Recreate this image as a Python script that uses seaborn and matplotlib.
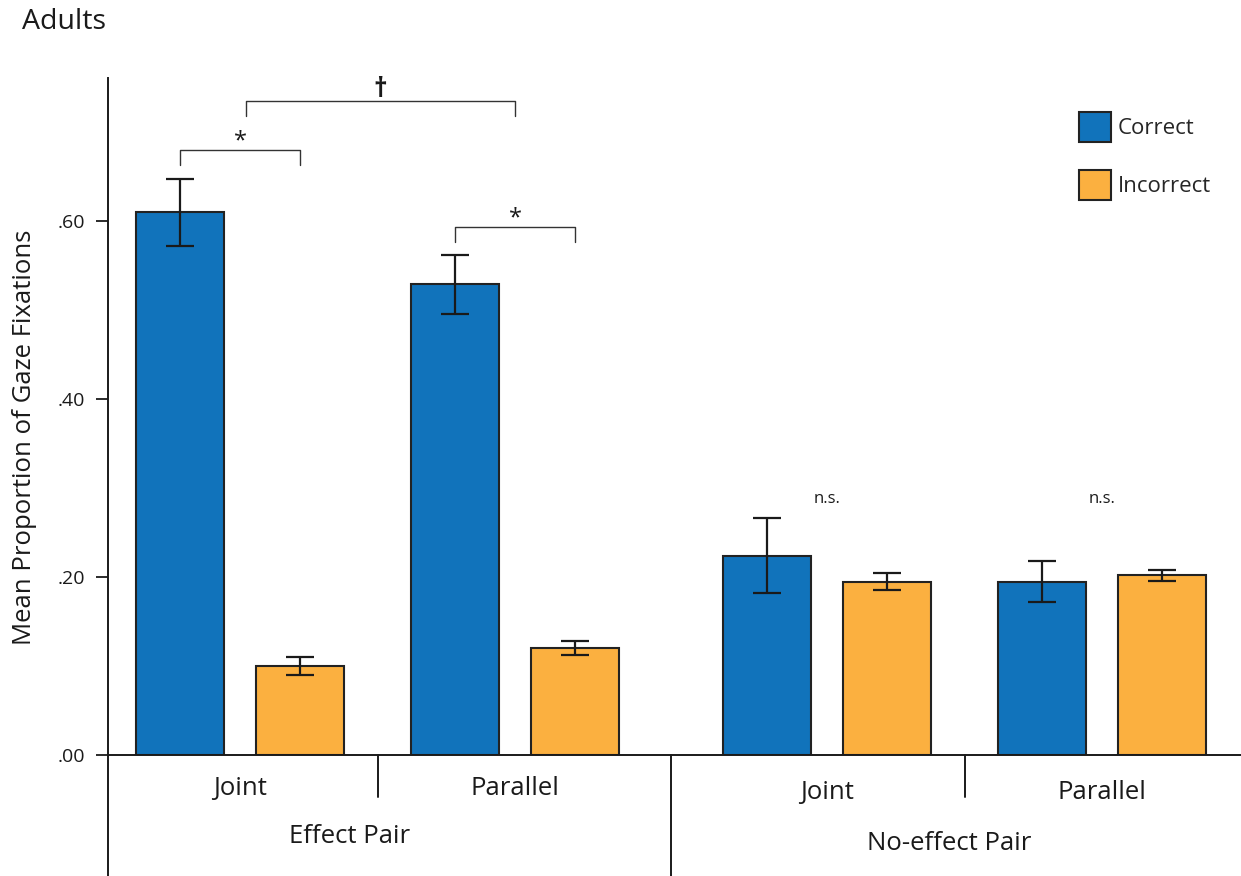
import numpy as np
import pandas as pd
import matplotlib
matplotlib.use("Agg")
import matplotlib.pyplot as plt
import matplotlib.transforms as mtransforms
import seaborn as sns

# ---------------- data ----------------
pair_groups = ["Effect Pair", "No-effect Pair"]
pairs = ["Effect Pair", "Effect Pair", "No-effect Pair", "No-effect Pair"]
conditions = ["Joint", "Parallel", "Joint", "Parallel"]
answers = ["Correct", "Incorrect"]
correct_mean = [0.610, 0.529, 0.224, 0.195]
correct_err = [0.038, 0.033, 0.042, 0.023]
incorrect_mean = [0.100, 0.120, 0.195, 0.202]
incorrect_err = [0.010, 0.008, 0.010, 0.006]
y_ticks = [0.0, 0.2, 0.4, 0.6]
y_tick_labels = [".00", ".20", ".40", ".60"]
within_sig = ["*", "*", "n.s.", "n.s."]
between_sig = "\u2020"
title = "Adults"
y_label = "Mean Proportion of Gaze Fixations"

# ---------------- style ----------------
sns.set_style("ticks")
plt.rcParams["font.family"] = ["Open Sans", "DejaVu Sans"]
INK = "#1a1a1a"
colors = {"Correct": "#1173bb", "Incorrect": "#fbb040"}
GROUP_GAP = 0.135

rows = []
for i, (pg, cond) in enumerate(zip(pairs, conditions)):
    gi = pair_groups.index(pg)
    xpos = i + GROUP_GAP * gi
    rows.append(dict(pair=pg, cond=cond, answer="Correct", mean=correct_mean[i],
                     err=correct_err[i], xpos=xpos))
    rows.append(dict(pair=pg, cond=cond, answer="Incorrect", mean=incorrect_mean[i],
                     err=incorrect_err[i], xpos=xpos))
df = pd.DataFrame(rows)

fig = plt.figure(figsize=(12.41, 8.76), dpi=100)
W, H = 1241, 876
ax = fig.add_axes([108 / W, 121 / H, 1133 / W, 677 / H])

sns.barplot(data=df, x="xpos", y="mean", hue="answer", hue_order=answers,
            palette=colors, saturation=1, native_scale=True, orient="x",
            width=0.873, gap=0.267, errorbar=None, edgecolor="#222222",
            linewidth=1.5, ax=ax, legend=True)

# error bars from bar geometry
bars = sorted([p for p in ax.patches if p.get_height() > 0],
              key=lambda p: p.get_x() + p.get_width() / 2)
df_sorted = df.sort_values(["xpos", "answer"]).reset_index(drop=True)
df_sorted["top"] = df_sorted["mean"] + df_sorted["err"]
centers = []
for p, (_, r) in zip(bars, df_sorted.iterrows()):
    cx = p.get_x() + p.get_width() / 2
    centers.append(cx)
    ax.errorbar(cx, r["mean"], yerr=r["err"], color=INK, lw=1.6,
                capsize=10, capthick=1.6, zorder=5)

ax.set_xlim(-0.48, 3.64)
ax.set_ylim(0, 0.761)
ax.set_yticks(y_ticks)
ax.set_yticklabels(y_tick_labels)
ax.set_xticks([])
ax.set_xlabel("")
ax.set_ylabel("")
ax.tick_params(axis="y", direction="out", length=8.5, width=1.3, pad=8,
               labelsize=14, colors=INK)
for s in ["top", "right"]:
    ax.spines[s].set_visible(False)
for s in ["left", "bottom"]:
    ax.spines[s].set_linewidth(1.4)
    ax.spines[s].set_color(INK)

# legend
handles, labels = ax.get_legend_handles_labels()
ax.legend(handles, labels, loc="upper left", bbox_to_anchor=(1079 / W, 1 - 112 / H),
          bbox_transform=fig.transFigure, frameon=False, fontsize=16,
          handlelength=1.45, handleheight=1.7, handletextpad=0.3,
          labelspacing=1.25, borderpad=0, borderaxespad=0)
for h in ax.get_legend().legend_handles:
    h.set_edgecolor("#222222")
    h.set_linewidth(1.5)

# significance brackets
BR_OFF, BR_H = 0.032, 0.017
ns_top = df_sorted.loc[df_sorted["pair"] == "No-effect Pair", "top"].max()
for k in range(4):
    x1, x2 = centers[2 * k], centers[2 * k + 1]
    top = max(df_sorted.loc[2 * k, "top"], df_sorted.loc[2 * k + 1, "top"])
    y = top + BR_OFF
    if within_sig[k] == "*":
        ax.plot([x1, x1, x2, x2], [y - BR_H, y, y, y - BR_H], color="#333333",
                lw=1.0, clip_on=False)
        ax.text((x1 + x2) / 2, y - 0.004, "*", ha="center", va="bottom",
                fontsize=17, color=INK)
    else:
        ax.text((x1 + x2) / 2, ns_top + 0.013, within_sig[k], ha="center",
                va="bottom", fontsize=12, color=INK)

# between-condition bracket (Effect pair)
xj = (centers[0] + centers[1]) / 2 + 0.02
xp = (centers[2] + centers[3]) / 2
top_j = max(df_sorted.loc[0, "top"], df_sorted.loc[1, "top"])
yb = top_j + BR_OFF + 0.055
ax.plot([xj, xj, xp, xp], [yb - BR_H, yb, yb, yb - BR_H], color="#333333",
        lw=1.0, clip_on=False)
ax.text((xj + xp) / 2, yb - 0.002, between_sig, ha="center", va="bottom",
        fontsize=19, color=INK, fontweight="bold")

# grouped category axis below
trans = mtransforms.blended_transform_factory(ax.transData, ax.transAxes)
cat_x = sorted(df["xpos"].unique())
ax.plot([0, 0], [0, -0.2], transform=ax.transAxes, color=INK, lw=1.4, clip_on=False)
for a, b, long_line in [(cat_x[0], cat_x[1], False), (cat_x[1], cat_x[2], True),
                        (cat_x[2], cat_x[3], False)]:
    m = (a + b) / 2
    ax.plot([m, m], [0, -0.2 if long_line else -0.062], transform=trans,
            color=INK, lw=1.4, clip_on=False)

cond_y = {"Effect Pair": -0.049, "No-effect Pair": -0.055}
for xv, cond, pg in zip(cat_x, conditions, pairs):
    ax.text(xv, cond_y[pg], cond, transform=trans, ha="center", va="center",
            fontsize=18.5, color=INK)
group_x = {"Effect Pair": 0.40, "No-effect Pair": 2.58}
group_y = {"Effect Pair": -0.12, "No-effect Pair": -0.13}
for pg in pair_groups:
    ax.text(group_x[pg], group_y[pg], pg, transform=trans, ha="center", va="center",
            fontsize=18.5, color=INK)

fig.text(22 / W, 1 - 22 / H, title, ha="left", va="center", fontsize=20.5, color=INK)
fig.text(25 / W, 1 - 437 / H, y_label, ha="center", va="center", rotation=90,
         fontsize=18.5, color=INK)

fig.savefig("out.png", dpi=100)
